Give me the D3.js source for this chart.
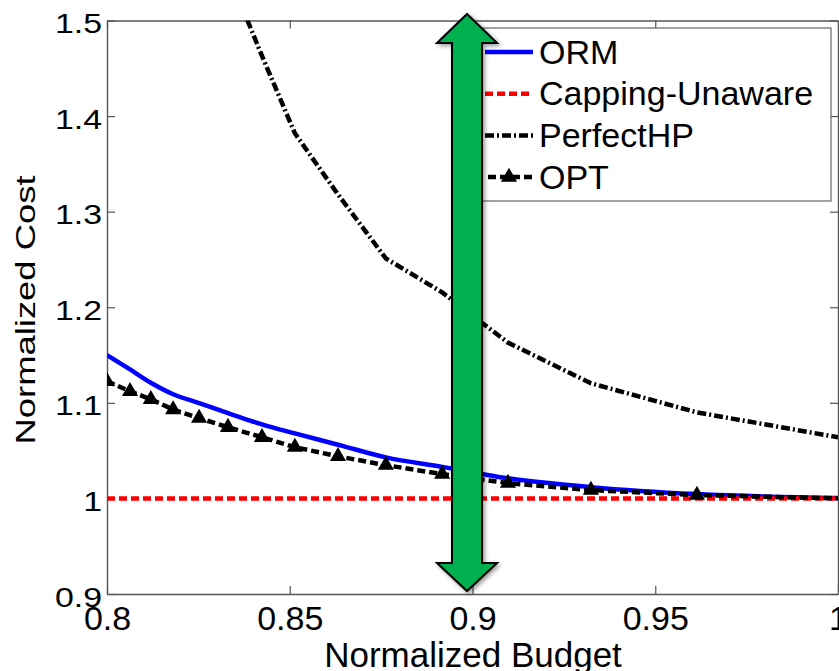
<!DOCTYPE html>
<html>
<head>
<meta charset="utf-8">
<script src="https://cdn.jsdelivr.net/npm/d3@7/dist/d3.min.js"></script>
<style>
  html, body { margin: 0; padding: 0; background: #fff; overflow: hidden; }
  svg { display: block; font-family: "Liberation Sans", Arial, sans-serif; }
</style>
</head>
<body>
<script>
// ---------------- data ----------------
const budget        = [0.800, 0.8063, 0.8120, 0.8181, 0.8252, 0.8331, 0.8424, 0.8514, 0.8632, 0.8763, 0.8917, 0.9097, 0.9324, 0.9614, 1.000];
const ormCost       = [1.150, 1.135, 1.121, 1.109, 1.0998, 1.0893, 1.0775, 1.068, 1.0562, 1.0429, 1.033, 1.021, 1.0118, 1.0045, 1.0005];
const cappingCost   = [1.000, 1.000, 1.000, 1.000, 1.000, 1.000, 1.000, 1.000, 1.000, 1.000, 1.000, 1.000, 1.000, 1.000, 1.000];
const perfectHpCost = [null, null, null, null, null, 1.55, 1.463, 1.382, 1.318, 1.251, 1.2156, 1.163, 1.1205, 1.090, 1.064];
const optCost       = [1.1226, 1.112, 1.1037, 1.093, 1.084, 1.0745, 1.064, 1.0536, 1.044, 1.0348, 1.0254, 1.016, 1.0087, 1.0035, 1.000];

const xTicks      = [0.8, 0.85, 0.9, 0.95, 1.0];
const xTickLabels = ["0.8", "0.85", "0.9", "0.95", "1"];
const yTicks      = [0.9, 1.0, 1.1, 1.2, 1.3, 1.4, 1.5];
const yTickLabels = ["0.9", "1", "1.1", "1.2", "1.3", "1.4", "1.5"];

const legendLabels = ["ORM", "Capping-Unaware", "PerfectHP", "OPT"];
const xTitle = "Normalized Budget";
const yTitle = "Normalized Cost";

// annotation arrow, in data units
const arrowX = 0.8985, arrowTop = 1.5068, arrowHeadTop = 1.4764, arrowHeadBottom = 0.9324, arrowBottom = 0.9031;

// ---------------- chart ----------------
const W = 839, H = 671;
const svg = d3.select("body").append("svg").attr("width", W).attr("height", H);

const x = d3.scaleLinear().domain([0.8, 1.0]).range([107, 838]);
const y = d3.scaleLinear().domain([0.9, 1.5]).range([594, 20.5]);

const axisColor = "#555";

svg.append("defs").append("clipPath").attr("id", "plotClip")
  .append("rect").attr("x", x(0.8)).attr("y", y(1.5))
  .attr("width", x(1.0) - x(0.8)).attr("height", y(0.9) - y(1.5));

const filt = svg.select("defs").append("filter").attr("id", "shadow")
  .attr("x", "-50%").attr("y", "-10%").attr("width", "200%").attr("height", "120%");
filt.append("feDropShadow").attr("dx", 2).attr("dy", 2).attr("stdDeviation", 2)
  .attr("flood-color", "#000").attr("flood-opacity", 0.4);

// axes
function styleAxis(g) {
  g.select(".domain").attr("stroke", axisColor).attr("stroke-width", 1.4);
  g.selectAll(".tick line").attr("stroke", axisColor).attr("stroke-width", 1.2);
}

const gBottom = svg.append("g").attr("transform", `translate(0,${y(0.9)})`)
  .call(d3.axisBottom(x).tickValues(xTicks).tickFormat((d, i) => xTickLabels[i])
    .tickSizeInner(-8).tickSizeOuter(0));
styleAxis(gBottom);
gBottom.selectAll("text").attr("y", 36).attr("dy", null)
  .attr("font-size", 34).attr("fill", "#000").attr("font-family", "'Liberation Sans', Arial, sans-serif");

const gTop = svg.append("g").attr("transform", `translate(0,${y(1.5)})`)
  .call(d3.axisTop(x).tickValues(xTicks).tickFormat("").tickSizeInner(-8).tickSizeOuter(0));
styleAxis(gTop);

const gLeft = svg.append("g").attr("transform", `translate(${x(0.8)},0)`)
  .call(d3.axisLeft(y).tickValues(yTicks).tickFormat((d, i) => yTickLabels[i])
    .tickSizeInner(-8).tickSizeOuter(0));
styleAxis(gLeft);
gLeft.selectAll("text").attr("x", 0).attr("dy", null)
  .attr("transform", "translate(-5,12) scale(1.21,1)")
  .attr("font-size", 28).attr("fill", "#000").attr("font-family", "'Liberation Sans', Arial, sans-serif");

const gRight = svg.append("g").attr("transform", `translate(${x(1.0)},0)`)
  .call(d3.axisRight(y).tickValues(yTicks).tickFormat("").tickSizeInner(-8).tickSizeOuter(0));
styleAxis(gRight);

// titles
svg.append("text").attr("x", 473).attr("y", 667).attr("text-anchor", "middle")
  .attr("font-size", 35).attr("fill", "#000").text(xTitle);
svg.append("text").attr("text-anchor", "middle").attr("font-size", 28).attr("fill", "#000")
  .attr("transform", "translate(35,310) rotate(-90) scale(1.3,1)").text(yTitle);

// series
const styles = [
  { values: ormCost,       color: "#0000ff", width: 4.5, dash: null,         curve: d3.curveMonotoneX },
  { values: cappingCost,   color: "#ff0000", width: 4.5, dash: "8,4",        curve: d3.curveLinear },
  { values: perfectHpCost, color: "#000",    width: 4.5, dash: "9,3,2,3",    curve: d3.curveLinear },
  { values: optCost,       color: "#000",    width: 4.5, dash: "8,4",        curve: d3.curveLinear }
];

const plot = svg.append("g").attr("clip-path", "url(#plotClip)");

styles.forEach(s => {
  const line = d3.line()
    .defined(d => d[1] != null)
    .x(d => x(d[0])).y(d => y(d[1])).curve(s.curve);
  const pts = budget.map((b, i) => [b, s.values[i]]);
  plot.append("path").datum(pts)
    .attr("fill", "none").attr("stroke", s.color).attr("stroke-width", s.width)
    .attr("stroke-dasharray", s.dash).attr("stroke-linejoin", "round")
    .attr("d", line);
});

const tri = d3.symbol(d3.symbolTriangle, 70);
plot.selectAll(".opt-mark").data(budget.map((b, i) => [b, optCost[i]]).filter(d => d[0] < 1))
  .join("path").attr("class", "opt-mark")
  .attr("transform", d => `translate(${x(d[0])},${y(d[1])})`)
  .attr("d", tri).attr("fill", "#000").attr("stroke", "#000").attr("stroke-width", 2);

// legend
const leg = svg.append("g");
leg.append("rect").attr("x", 481).attr("y", 28).attr("width", 350).attr("height", 173)
  .attr("fill", "#fff").attr("stroke", "#666").attr("stroke-width", 1.2);
legendLabels.forEach((lab, i) => {
  const cy = 52 + i * 41.7;
  const s = styles[i];
  leg.append("line").attr("x1", i === 3 ? 488 : 485).attr("x2", 533).attr("y1", cy).attr("y2", cy)
    .attr("stroke", s.color).attr("stroke-width", s.width).attr("stroke-dasharray", s.dash);
  if (i === 3) {
    leg.append("path").attr("transform", `translate(509,${cy})`).attr("d", tri)
      .attr("fill", "#000").attr("stroke", "#000").attr("stroke-width", 2);
  }
  leg.append("text").attr("x", 539).attr("y", cy + 11.5).attr("font-size", 34)
    .attr("fill", "#000").text(lab);
});

// double-headed arrow annotation
const cx = x(arrowX), t0 = y(arrowTop), t1 = y(arrowHeadTop), b1 = y(arrowHeadBottom), b0 = y(arrowBottom);
const shaft = 15, head = 30;
const arrowPts = [
  [cx, t0], [cx + head, t1], [cx + shaft, t1], [cx + shaft, b1], [cx + head, b1],
  [cx, b0], [cx - head, b1], [cx - shaft, b1], [cx - shaft, t1], [cx - head, t1]
];
svg.append("path").attr("d", d3.line()(arrowPts) + "Z")
  .attr("fill", "#00b050").attr("stroke", "#000").attr("stroke-width", 2)
  .attr("stroke-linejoin", "miter").attr("filter", "url(#shadow)");
</script>
</body>
</html>
